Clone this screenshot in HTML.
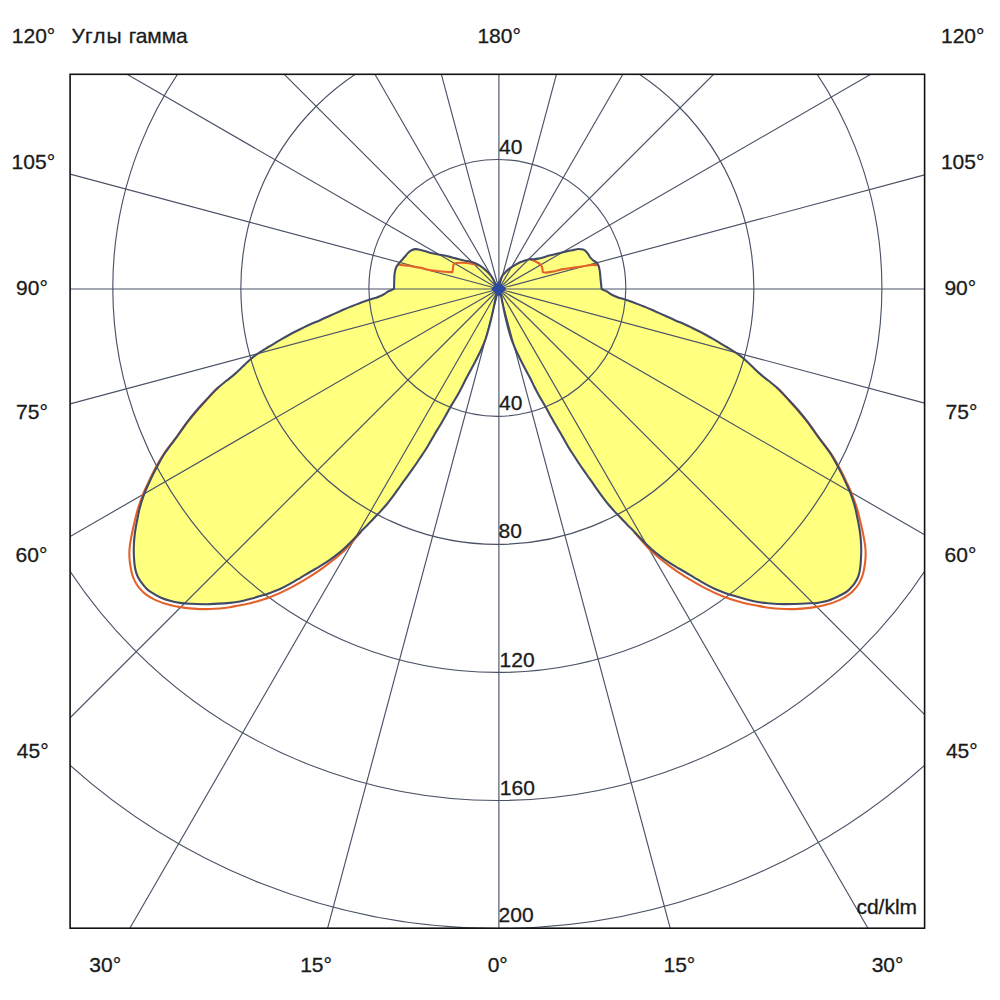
<!DOCTYPE html><html><head><meta charset="utf-8"><style>html,body{margin:0;padding:0;background:#fff;width:1000px;height:1000px;overflow:hidden}svg{display:block}text{font-family:"Liberation Sans",sans-serif;font-size:21px;fill:#1a1a1a;stroke:#1a1a1a;stroke-width:0.3px}</style></head><body>
<svg width="1000" height="1000" viewBox="0 0 1000 1000">
<defs><clipPath id="fr"><rect x="70.1" y="74.3" width="854.5" height="853.9"/></clipPath></defs>
<path d="M498.60,288.80 C498.13,288.27 496.57,286.93 495.80,285.60 C495.03,284.27 494.80,282.40 494.00,280.80 C493.20,279.20 492.13,277.48 491.02,275.99 C489.92,274.49 488.68,273.13 487.38,271.83 C486.09,270.52 484.62,269.29 483.23,268.17 C481.83,267.06 480.43,266.01 479.02,265.15 C477.60,264.28 476.23,263.57 474.73,262.98 C473.23,262.38 471.81,261.99 470.02,261.57 C468.23,261.15 465.99,260.85 463.99,260.44 C461.99,260.03 460.03,259.59 458.03,259.09 C456.03,258.59 453.99,257.99 451.99,257.45 C449.98,256.90 448.00,256.27 446.00,255.81 C444.00,255.35 441.65,255.00 439.99,254.70 C438.33,254.41 437.70,254.36 436.03,254.02 C434.36,253.69 432.08,253.25 429.98,252.69 C427.88,252.14 425.33,251.23 423.42,250.70 C421.52,250.16 419.95,249.75 418.54,249.49 C417.13,249.23 416.24,248.98 414.97,249.16 C413.70,249.34 412.11,249.91 410.92,250.58 C409.72,251.24 408.81,252.10 407.80,253.14 C406.78,254.17 405.82,255.61 404.80,256.80 C403.79,258.00 402.79,259.09 401.69,260.30 C400.58,261.51 399.13,262.82 398.19,264.06 C397.25,265.30 396.67,266.15 396.07,267.74 C395.47,269.33 394.91,271.22 394.60,273.60 C394.29,275.98 394.30,279.43 394.20,282.00 C394.10,284.57 394.03,287.83 394.00,289.00 C393.67,289.13 393.00,289.38 392.00,289.80 C391.00,290.22 389.16,290.87 388.00,291.50 C386.84,292.13 386.36,292.76 385.02,293.56 C383.67,294.37 381.59,295.58 379.93,296.32 C378.26,297.07 376.66,297.48 375.01,298.01 C373.36,298.54 372.50,298.68 370.00,299.52 C367.51,300.36 363.36,301.83 360.02,303.05 C356.68,304.28 353.27,305.53 349.95,306.89 C346.63,308.25 343.44,309.74 340.10,311.21 C336.75,312.69 333.22,314.25 329.89,315.74 C326.55,317.24 323.40,318.72 320.08,320.18 C316.76,321.64 312.80,323.24 309.96,324.51 C307.12,325.77 305.35,326.64 303.03,327.76 C300.70,328.88 298.34,330.00 296.00,331.21 C293.66,332.41 291.32,333.69 288.99,334.97 C286.65,336.26 284.35,337.58 282.02,338.93 C279.69,340.28 277.33,341.69 274.99,343.08 C272.65,344.47 270.30,345.85 267.97,347.26 C265.64,348.67 263.36,350.03 261.02,351.54 C258.69,353.06 256.25,354.57 253.95,356.34 C251.64,358.12 249.15,360.42 247.21,362.21 C245.26,363.99 244.40,365.04 242.26,367.07 C240.12,369.09 237.03,372.09 234.39,374.37 C231.74,376.66 229.03,378.63 226.38,380.79 C223.74,382.94 220.89,385.18 218.50,387.32 C216.11,389.45 214.45,391.11 212.02,393.61 C209.59,396.12 206.61,399.41 203.93,402.34 C201.26,405.27 198.62,408.10 195.98,411.20 C193.35,414.29 190.51,417.77 188.13,420.89 C185.75,424.01 183.72,427.10 181.71,429.94 C179.71,432.77 178.06,435.23 176.08,437.91 C174.11,440.60 171.84,443.37 169.86,446.06 C167.89,448.74 166.10,451.09 164.23,454.02 C162.36,456.95 160.40,460.43 158.64,463.62 C156.89,466.80 155.28,469.94 153.69,473.15 C152.10,476.35 150.57,479.65 149.10,482.85 C147.63,486.05 146.14,489.15 144.86,492.35 C143.58,495.55 142.36,499.13 141.43,502.07 C140.49,505.00 139.90,507.30 139.26,509.96 C138.62,512.61 138.14,515.33 137.60,518.00 C137.06,520.68 136.49,523.34 136.02,526.00 C135.55,528.67 135.11,531.33 134.78,534.00 C134.45,536.67 134.20,539.34 134.03,542.00 C133.87,544.67 133.77,547.33 133.77,550.00 C133.76,552.67 133.84,555.33 134.01,558.00 C134.18,560.67 134.41,563.62 134.76,566.01 C135.12,568.41 135.50,570.39 136.11,572.38 C136.73,574.37 137.42,576.07 138.45,577.95 C139.48,579.82 141.05,581.96 142.30,583.65 C143.56,585.35 144.63,586.76 145.96,588.10 C147.28,589.43 147.95,590.14 150.27,591.66 C152.60,593.18 156.61,595.69 159.91,597.22 C163.20,598.75 166.70,599.90 170.05,600.85 C173.40,601.79 176.69,602.42 180.01,602.89 C183.34,603.37 185.01,603.48 190.01,603.69 C195.01,603.90 203.35,604.30 210.01,604.17 C216.67,604.04 224.96,603.36 229.96,602.92 C234.96,602.48 236.65,602.17 239.99,601.51 C243.33,600.86 246.65,599.88 249.99,598.98 C253.33,598.09 256.71,597.13 260.04,596.12 C263.37,595.11 266.65,594.11 269.98,592.92 C273.31,591.73 276.67,590.49 280.00,589.00 C283.33,587.50 286.62,585.76 289.96,583.94 C293.30,582.11 296.70,580.05 300.04,578.06 C303.38,576.08 306.66,573.99 310.00,572.00 C313.34,570.01 316.77,568.15 320.08,566.12 C323.40,564.09 326.55,562.15 329.88,559.82 C333.22,557.48 336.74,554.92 340.08,552.10 C343.42,549.29 347.03,545.77 349.93,542.94 C352.84,540.11 355.69,537.05 357.53,535.13 C359.37,533.20 359.40,533.00 360.99,531.39 C362.57,529.77 365.05,527.45 367.04,525.44 C369.03,523.43 371.12,521.23 372.93,519.34 C374.74,517.44 376.49,515.58 377.90,514.09 C379.30,512.59 379.99,511.88 381.37,510.36 C382.74,508.84 384.65,506.76 386.16,504.97 C387.68,503.18 389.06,501.44 390.45,499.64 C391.85,497.84 393.16,496.07 394.55,494.16 C395.95,492.26 397.42,490.21 398.82,488.22 C400.23,486.22 401.56,484.17 402.97,482.18 C404.38,480.19 405.80,478.31 407.29,476.26 C408.78,474.22 410.44,471.97 411.90,469.93 C413.36,467.89 414.69,466.02 416.04,464.03 C417.39,462.04 418.66,460.00 420.00,458.00 C421.34,456.00 422.74,454.04 424.05,452.03 C425.37,450.02 426.58,448.10 427.89,445.93 C429.20,443.77 430.75,441.05 431.90,439.06 C433.05,437.07 433.70,435.83 434.78,433.99 C435.86,432.15 437.19,429.99 438.40,428.00 C439.61,426.01 440.86,424.03 442.04,422.02 C443.22,420.01 444.37,417.93 445.49,415.94 C446.60,413.95 447.74,411.88 448.74,410.08 C449.75,408.28 450.34,407.16 451.53,405.16 C452.71,403.15 454.58,400.24 455.87,398.04 C457.17,395.84 458.22,393.95 459.31,391.95 C460.40,389.95 461.42,388.01 462.43,386.02 C463.45,384.03 464.37,381.99 465.39,380.00 C466.42,378.00 467.33,376.39 468.59,374.05 C469.84,371.71 471.42,368.79 472.92,365.96 C474.42,363.12 476.10,360.05 477.60,357.05 C479.11,354.05 480.61,350.98 481.94,347.97 C483.26,344.96 484.50,341.98 485.56,338.99 C486.62,336.00 487.47,333.01 488.31,330.01 C489.16,327.01 489.91,324.02 490.65,321.01 C491.39,318.01 492.08,314.99 492.74,311.99 C493.40,308.99 493.99,306.00 494.60,303.00 C495.21,300.00 495.73,296.37 496.40,294.00 C497.07,291.63 498.23,289.67 498.60,288.80Z" fill="#ffff80"/>
<path d="M498.80,288.80 C498.97,287.67 499.23,284.13 499.80,282.00 C500.37,279.87 501.20,277.70 502.20,276.00 C503.20,274.30 504.50,273.10 505.80,271.80 C507.10,270.50 508.50,269.30 510.00,268.20 C511.50,267.10 513.10,266.20 514.80,265.20 C516.50,264.20 518.50,263.00 520.20,262.20 C521.90,261.40 523.40,260.90 525.00,260.40 C526.60,259.90 528.30,259.40 529.80,259.20 C531.30,259.00 532.60,259.30 534.00,259.20 C535.40,259.10 536.70,258.90 538.20,258.60 C539.70,258.30 541.20,257.90 543.00,257.40 C544.80,256.90 546.83,256.15 549.00,255.60 C551.17,255.05 553.83,254.60 556.00,254.10 C558.17,253.60 560.00,253.10 562.00,252.60 C564.00,252.10 566.00,251.55 568.00,251.10 C570.00,250.65 572.30,250.25 574.00,249.90 C575.70,249.55 576.70,249.05 578.20,249.00 C579.70,248.95 581.70,249.20 583.00,249.60 C584.30,250.00 585.10,250.60 586.00,251.40 C586.90,252.20 587.70,253.40 588.40,254.40 C589.10,255.40 589.40,256.40 590.20,257.40 C591.00,258.40 592.10,259.50 593.20,260.40 C594.30,261.30 595.90,261.90 596.80,262.80 C597.70,263.70 598.10,264.40 598.60,265.80 C599.10,267.20 599.50,269.30 599.80,271.20 C600.10,273.10 600.20,275.20 600.40,277.20 C600.60,279.20 600.80,281.23 601.00,283.20 C601.20,285.17 601.50,288.03 601.60,289.00 C601.83,289.13 602.10,289.38 603.00,289.80 C603.90,290.22 605.84,290.87 607.00,291.50 C608.16,292.13 608.64,292.76 609.98,293.56 C611.33,294.37 613.41,295.58 615.07,296.32 C616.74,297.07 618.34,297.48 619.99,298.01 C621.64,298.54 622.50,298.68 625.00,299.52 C627.49,300.36 631.64,301.83 634.98,303.05 C638.32,304.28 641.73,305.53 645.05,306.89 C648.37,308.25 651.56,309.74 654.90,311.21 C658.25,312.69 661.78,314.25 665.11,315.74 C668.45,317.24 671.60,318.72 674.92,320.18 C678.24,321.64 682.20,323.24 685.04,324.51 C687.88,325.77 689.65,326.64 691.97,327.76 C694.30,328.88 696.66,330.00 699.00,331.21 C701.34,332.41 703.68,333.69 706.01,334.97 C708.35,336.26 710.65,337.58 712.98,338.93 C715.31,340.28 717.67,341.69 720.01,343.08 C722.35,344.47 724.70,345.85 727.03,347.26 C729.36,348.67 731.64,350.03 733.98,351.54 C736.31,353.06 738.75,354.57 741.05,356.34 C743.36,358.12 745.85,360.42 747.79,362.21 C749.74,363.99 750.60,365.04 752.74,367.07 C754.88,369.09 757.97,372.09 760.61,374.37 C763.26,376.66 765.97,378.63 768.62,380.79 C771.26,382.94 774.11,385.18 776.50,387.32 C778.89,389.45 780.55,391.11 782.98,393.61 C785.41,396.12 788.39,399.41 791.07,402.34 C793.74,405.27 796.38,408.10 799.02,411.20 C801.65,414.29 804.49,417.77 806.87,420.89 C809.25,424.01 811.28,427.10 813.29,429.94 C815.29,432.77 816.94,435.23 818.92,437.91 C820.89,440.60 823.16,443.37 825.14,446.06 C827.11,448.74 828.90,451.09 830.77,454.02 C832.64,456.95 834.60,460.43 836.36,463.62 C838.11,466.80 839.72,469.94 841.31,473.15 C842.90,476.35 844.43,479.65 845.90,482.85 C847.37,486.05 848.86,489.15 850.14,492.35 C851.42,495.55 852.64,499.13 853.57,502.07 C854.51,505.00 855.10,507.30 855.74,509.96 C856.38,512.61 856.86,515.33 857.40,518.00 C857.94,520.68 858.51,523.34 858.98,526.00 C859.45,528.67 859.89,531.33 860.22,534.00 C860.55,536.67 860.80,539.34 860.97,542.00 C861.13,544.67 861.23,547.33 861.23,550.00 C861.24,552.67 861.13,555.33 860.99,558.00 C860.85,560.67 860.66,563.60 860.40,566.00 C860.14,568.40 859.87,570.40 859.40,572.40 C858.93,574.40 858.43,576.13 857.60,578.00 C856.77,579.87 855.57,581.93 854.40,583.60 C853.23,585.27 851.95,586.60 850.60,588.00 C849.25,589.40 848.57,590.50 846.30,592.00 C844.03,593.50 840.22,595.50 837.00,597.00 C833.78,598.50 830.50,600.00 827.00,601.00 C823.50,602.00 817.83,602.67 816.00,603.00 C814.17,603.33 821.17,602.81 816.00,603.00 C810.83,603.19 793.48,604.18 784.99,604.17 C776.49,604.15 770.04,603.36 765.04,602.92 C760.04,602.48 758.35,602.17 755.01,601.51 C751.67,600.86 748.35,599.88 745.01,598.98 C741.67,598.09 738.29,597.13 734.96,596.12 C731.63,595.11 728.35,594.11 725.02,592.92 C721.69,591.73 718.33,590.49 715.00,589.00 C711.67,587.50 708.38,585.76 705.04,583.94 C701.70,582.11 698.30,580.05 694.96,578.06 C691.62,576.08 688.34,573.99 685.00,572.00 C681.66,570.01 678.23,568.15 674.92,566.12 C671.60,564.09 668.45,562.15 665.12,559.82 C661.78,557.48 658.26,554.92 654.92,552.10 C651.58,549.29 647.97,545.77 645.07,542.94 C642.16,540.11 639.31,537.05 637.47,535.13 C635.63,533.20 635.60,533.00 634.01,531.39 C632.43,529.77 629.95,527.45 627.96,525.44 C625.97,523.43 623.88,521.23 622.07,519.34 C620.26,517.44 618.51,515.58 617.10,514.09 C615.70,512.59 615.01,511.88 613.63,510.36 C612.26,508.84 610.35,506.76 608.84,504.97 C607.32,503.18 605.94,501.44 604.55,499.64 C603.15,497.84 601.84,496.07 600.45,494.16 C599.06,492.26 597.57,490.21 596.18,488.22 C594.79,486.22 593.50,484.17 592.12,482.18 C590.74,480.19 589.36,478.31 587.90,476.26 C586.45,474.22 584.82,471.97 583.39,469.93 C581.97,467.89 580.67,466.02 579.35,464.03 C578.03,462.04 576.78,460.00 575.47,458.00 C574.16,456.00 572.79,454.04 571.51,452.03 C570.22,450.02 569.04,448.10 567.76,445.93 C566.48,443.77 564.96,441.05 563.83,439.06 C562.71,437.07 562.08,435.83 561.02,433.99 C559.96,432.15 558.66,429.99 557.48,428.00 C556.29,426.01 555.07,424.03 553.92,422.02 C552.76,420.01 551.64,417.93 550.54,415.94 C549.45,413.95 548.34,411.88 547.36,410.08 C546.37,408.28 545.80,407.16 544.64,405.16 C543.48,403.15 541.66,400.24 540.39,398.04 C539.12,395.84 538.10,393.95 537.03,391.95 C535.96,389.95 534.96,388.01 533.97,386.02 C532.98,384.03 532.08,381.99 531.08,380.00 C530.07,378.00 529.18,376.39 527.95,374.05 C526.72,371.71 525.19,368.79 523.72,365.96 C522.25,363.12 520.60,360.05 519.13,357.05 C517.66,354.05 516.19,350.98 514.90,347.97 C513.60,344.96 512.39,341.98 511.35,338.99 C510.32,336.00 509.49,333.01 508.66,330.01 C507.83,327.01 507.10,324.02 506.38,321.01 C505.65,318.01 504.97,314.99 504.33,311.99 C503.68,308.99 503.11,306.00 502.51,303.00 C501.92,300.00 501.40,296.37 500.75,294.00 C500.10,291.63 498.96,289.67 498.60,288.80Z" fill="#ffff80"/>
<g clip-path="url(#fr)" stroke="#4a5266" stroke-width="1.15" fill="none">
<circle cx="497.35" cy="287.9" r="128.45"/>
<circle cx="497.35" cy="287.9" r="256.50"/>
<circle cx="497.35" cy="287.9" r="384.55"/>
<circle cx="497.35" cy="287.9" r="512.60"/>
<circle cx="497.35" cy="287.9" r="640.65"/>
<line x1="498.9" y1="289.0" x2="924.60" y2="289.00"/>
<line x1="498.9" y1="289.0" x2="924.60" y2="403.07"/>
<line x1="498.9" y1="289.0" x2="924.60" y2="534.78"/>
<line x1="498.9" y1="289.0" x2="924.60" y2="714.70"/>
<line x1="498.9" y1="289.0" x2="867.94" y2="928.20"/>
<line x1="498.9" y1="289.0" x2="670.17" y2="928.20"/>
<line x1="498.9" y1="289.0" x2="498.90" y2="928.20"/>
<line x1="498.9" y1="289.0" x2="327.63" y2="928.20"/>
<line x1="498.9" y1="289.0" x2="129.86" y2="928.20"/>
<line x1="498.9" y1="289.0" x2="70.10" y2="717.80"/>
<line x1="498.9" y1="289.0" x2="70.10" y2="536.57"/>
<line x1="498.9" y1="289.0" x2="70.10" y2="403.90"/>
<line x1="498.9" y1="289.0" x2="70.10" y2="289.00"/>
<line x1="498.9" y1="289.0" x2="70.10" y2="174.10"/>
<line x1="498.9" y1="289.0" x2="127.03" y2="74.30"/>
<line x1="498.9" y1="289.0" x2="284.20" y2="74.30"/>
<line x1="498.9" y1="289.0" x2="374.94" y2="74.30"/>
<line x1="498.9" y1="289.0" x2="441.37" y2="74.30"/>
<line x1="498.9" y1="289.0" x2="498.90" y2="74.30"/>
<line x1="498.9" y1="289.0" x2="556.43" y2="74.30"/>
<line x1="498.9" y1="289.0" x2="622.86" y2="74.30"/>
<line x1="498.9" y1="289.0" x2="713.60" y2="74.30"/>
<line x1="498.9" y1="289.0" x2="870.77" y2="74.30"/>
<line x1="498.9" y1="289.0" x2="924.60" y2="174.93"/>
</g>
<path d="M398.20,264.60 C399.00,264.70 401.20,265.00 403.00,265.20 C404.80,265.40 407.00,265.50 409.00,265.80 C411.00,266.10 413.00,266.65 415.00,267.00 C417.00,267.35 419.00,267.50 421.00,267.90 C423.00,268.30 425.00,268.95 427.00,269.40 C429.00,269.85 431.00,270.28 433.00,270.60 C435.00,270.92 437.00,271.10 439.00,271.30 C441.00,271.50 442.77,271.65 445.00,271.80 C447.23,271.95 451.17,272.13 452.40,272.20 C452.60,270.87 453.40,265.53 453.60,264.20 C454.13,264.00 455.07,263.23 456.80,263.00 C458.53,262.77 461.80,262.73 464.00,262.80 C466.20,262.87 468.20,263.17 470.00,263.40 C471.80,263.63 473.30,263.83 474.80,264.20 C476.30,264.57 478.30,265.37 479.00,265.60" fill="none" stroke="#e4622a" stroke-width="2.1" stroke-linejoin="round"/>
<path d="M218.40,387.20 C217.33,388.30 214.41,391.21 212.00,393.80 C209.59,396.39 206.65,399.78 203.97,402.77 C201.29,405.76 198.64,408.58 195.93,411.74 C193.21,414.91 190.16,418.58 187.68,421.74 C185.21,424.90 183.14,427.88 181.08,430.71 C179.02,433.54 177.32,436.03 175.30,438.73 C173.29,441.42 170.98,444.18 168.97,446.86 C166.95,449.54 165.11,451.91 163.21,454.81 C161.31,457.70 159.34,461.07 157.56,464.23 C155.77,467.38 154.10,470.56 152.49,473.74 C150.88,476.93 149.37,480.18 147.90,483.35 C146.43,486.52 144.99,489.57 143.68,492.75 C142.38,495.94 141.09,499.52 140.05,502.45 C139.02,505.39 138.26,507.66 137.47,510.36 C136.68,513.06 136.12,515.36 135.33,518.63 C134.53,521.90 133.52,526.08 132.70,529.98 C131.88,533.87 130.95,538.67 130.41,542.01 C129.87,545.35 129.61,547.34 129.45,550.01 C129.29,552.67 129.31,555.33 129.47,558.00 C129.62,560.66 129.97,563.34 130.40,566.01 C130.83,568.68 131.36,571.60 132.04,574.00 C132.72,576.39 133.41,578.23 134.47,580.38 C135.53,582.53 136.59,584.66 138.38,586.90 C140.18,589.15 142.44,591.70 145.22,593.85 C148.00,596.01 150.95,597.97 155.08,599.84 C159.20,601.72 164.97,603.77 169.96,605.11 C174.95,606.46 180.01,607.23 185.01,607.90 C190.02,608.56 194.15,609.02 199.98,609.11 C205.81,609.20 214.98,608.76 219.98,608.44 C224.98,608.12 226.65,607.72 229.99,607.19 C233.33,606.66 236.65,605.89 240.01,605.23 C243.36,604.58 245.14,604.60 250.12,603.27 C255.11,601.95 263.27,599.80 269.91,597.26 C276.56,594.73 283.27,591.57 289.98,588.09 C296.70,584.60 304.44,579.94 310.22,576.35 C316.01,572.77 319.68,570.23 324.68,566.56 C329.69,562.89 336.07,557.96 340.25,554.32 C344.42,550.69 346.89,547.81 349.75,544.76 C352.60,541.71 355.52,538.16 357.40,536.00 C359.28,533.84 360.40,532.50 361.00,531.80" fill="none" stroke="#e4622a" stroke-width="2.1"/>
<path d="M498.60,288.80 C498.13,288.27 496.57,286.93 495.80,285.60 C495.03,284.27 494.80,282.40 494.00,280.80 C493.20,279.20 492.13,277.48 491.02,275.99 C489.92,274.49 488.68,273.13 487.38,271.83 C486.09,270.52 484.62,269.29 483.23,268.17 C481.83,267.06 480.43,266.01 479.02,265.15 C477.60,264.28 476.23,263.57 474.73,262.98 C473.23,262.38 471.81,261.99 470.02,261.57 C468.23,261.15 465.99,260.85 463.99,260.44 C461.99,260.03 460.03,259.59 458.03,259.09 C456.03,258.59 453.99,257.99 451.99,257.45 C449.98,256.90 448.00,256.27 446.00,255.81 C444.00,255.35 441.65,255.00 439.99,254.70 C438.33,254.41 437.70,254.36 436.03,254.02 C434.36,253.69 432.08,253.25 429.98,252.69 C427.88,252.14 425.33,251.23 423.42,250.70 C421.52,250.16 419.95,249.75 418.54,249.49 C417.13,249.23 416.24,248.98 414.97,249.16 C413.70,249.34 412.11,249.91 410.92,250.58 C409.72,251.24 408.81,252.10 407.80,253.14 C406.78,254.17 405.82,255.61 404.80,256.80 C403.79,258.00 402.79,259.09 401.69,260.30 C400.58,261.51 399.13,262.82 398.19,264.06 C397.25,265.30 396.67,266.15 396.07,267.74 C395.47,269.33 394.91,271.22 394.60,273.60 C394.29,275.98 394.30,279.43 394.20,282.00 C394.10,284.57 394.03,287.83 394.00,289.00 C393.67,289.13 393.00,289.38 392.00,289.80 C391.00,290.22 389.16,290.87 388.00,291.50 C386.84,292.13 386.36,292.76 385.02,293.56 C383.67,294.37 381.59,295.58 379.93,296.32 C378.26,297.07 376.66,297.48 375.01,298.01 C373.36,298.54 372.50,298.68 370.00,299.52 C367.51,300.36 363.36,301.83 360.02,303.05 C356.68,304.28 353.27,305.53 349.95,306.89 C346.63,308.25 343.44,309.74 340.10,311.21 C336.75,312.69 333.22,314.25 329.89,315.74 C326.55,317.24 323.40,318.72 320.08,320.18 C316.76,321.64 312.80,323.24 309.96,324.51 C307.12,325.77 305.35,326.64 303.03,327.76 C300.70,328.88 298.34,330.00 296.00,331.21 C293.66,332.41 291.32,333.69 288.99,334.97 C286.65,336.26 284.35,337.58 282.02,338.93 C279.69,340.28 277.33,341.69 274.99,343.08 C272.65,344.47 270.30,345.85 267.97,347.26 C265.64,348.67 263.36,350.03 261.02,351.54 C258.69,353.06 256.25,354.57 253.95,356.34 C251.64,358.12 249.15,360.42 247.21,362.21 C245.26,363.99 244.40,365.04 242.26,367.07 C240.12,369.09 237.03,372.09 234.39,374.37 C231.74,376.66 229.03,378.63 226.38,380.79 C223.74,382.94 220.89,385.18 218.50,387.32 C216.11,389.45 214.45,391.11 212.02,393.61 C209.59,396.12 206.61,399.41 203.93,402.34 C201.26,405.27 198.62,408.10 195.98,411.20 C193.35,414.29 190.51,417.77 188.13,420.89 C185.75,424.01 183.72,427.10 181.71,429.94 C179.71,432.77 178.06,435.23 176.08,437.91 C174.11,440.60 171.84,443.37 169.86,446.06 C167.89,448.74 166.10,451.09 164.23,454.02 C162.36,456.95 160.40,460.43 158.64,463.62 C156.89,466.80 155.28,469.94 153.69,473.15 C152.10,476.35 150.57,479.65 149.10,482.85 C147.63,486.05 146.14,489.15 144.86,492.35 C143.58,495.55 142.36,499.13 141.43,502.07 C140.49,505.00 139.90,507.30 139.26,509.96 C138.62,512.61 138.14,515.33 137.60,518.00 C137.06,520.68 136.49,523.34 136.02,526.00 C135.55,528.67 135.11,531.33 134.78,534.00 C134.45,536.67 134.20,539.34 134.03,542.00 C133.87,544.67 133.77,547.33 133.77,550.00 C133.76,552.67 133.84,555.33 134.01,558.00 C134.18,560.67 134.41,563.62 134.76,566.01 C135.12,568.41 135.50,570.39 136.11,572.38 C136.73,574.37 137.42,576.07 138.45,577.95 C139.48,579.82 141.05,581.96 142.30,583.65 C143.56,585.35 144.63,586.76 145.96,588.10 C147.28,589.43 147.95,590.14 150.27,591.66 C152.60,593.18 156.61,595.69 159.91,597.22 C163.20,598.75 166.70,599.90 170.05,600.85 C173.40,601.79 176.69,602.42 180.01,602.89 C183.34,603.37 185.01,603.48 190.01,603.69 C195.01,603.90 203.35,604.30 210.01,604.17 C216.67,604.04 224.96,603.36 229.96,602.92 C234.96,602.48 236.65,602.17 239.99,601.51 C243.33,600.86 246.65,599.88 249.99,598.98 C253.33,598.09 256.71,597.13 260.04,596.12 C263.37,595.11 266.65,594.11 269.98,592.92 C273.31,591.73 276.67,590.49 280.00,589.00 C283.33,587.50 286.62,585.76 289.96,583.94 C293.30,582.11 296.70,580.05 300.04,578.06 C303.38,576.08 306.66,573.99 310.00,572.00 C313.34,570.01 316.77,568.15 320.08,566.12 C323.40,564.09 326.55,562.15 329.88,559.82 C333.22,557.48 336.74,554.92 340.08,552.10 C343.42,549.29 347.03,545.77 349.93,542.94 C352.84,540.11 355.69,537.05 357.53,535.13 C359.37,533.20 359.40,533.00 360.99,531.39 C362.57,529.77 365.05,527.45 367.04,525.44 C369.03,523.43 371.12,521.23 372.93,519.34 C374.74,517.44 376.49,515.58 377.90,514.09 C379.30,512.59 379.99,511.88 381.37,510.36 C382.74,508.84 384.65,506.76 386.16,504.97 C387.68,503.18 389.06,501.44 390.45,499.64 C391.85,497.84 393.16,496.07 394.55,494.16 C395.95,492.26 397.42,490.21 398.82,488.22 C400.23,486.22 401.56,484.17 402.97,482.18 C404.38,480.19 405.80,478.31 407.29,476.26 C408.78,474.22 410.44,471.97 411.90,469.93 C413.36,467.89 414.69,466.02 416.04,464.03 C417.39,462.04 418.66,460.00 420.00,458.00 C421.34,456.00 422.74,454.04 424.05,452.03 C425.37,450.02 426.58,448.10 427.89,445.93 C429.20,443.77 430.75,441.05 431.90,439.06 C433.05,437.07 433.70,435.83 434.78,433.99 C435.86,432.15 437.19,429.99 438.40,428.00 C439.61,426.01 440.86,424.03 442.04,422.02 C443.22,420.01 444.37,417.93 445.49,415.94 C446.60,413.95 447.74,411.88 448.74,410.08 C449.75,408.28 450.34,407.16 451.53,405.16 C452.71,403.15 454.58,400.24 455.87,398.04 C457.17,395.84 458.22,393.95 459.31,391.95 C460.40,389.95 461.42,388.01 462.43,386.02 C463.45,384.03 464.37,381.99 465.39,380.00 C466.42,378.00 467.33,376.39 468.59,374.05 C469.84,371.71 471.42,368.79 472.92,365.96 C474.42,363.12 476.10,360.05 477.60,357.05 C479.11,354.05 480.61,350.98 481.94,347.97 C483.26,344.96 484.50,341.98 485.56,338.99 C486.62,336.00 487.47,333.01 488.31,330.01 C489.16,327.01 489.91,324.02 490.65,321.01 C491.39,318.01 492.08,314.99 492.74,311.99 C493.40,308.99 493.99,306.00 494.60,303.00 C495.21,300.00 495.73,296.37 496.40,294.00 C497.07,291.63 498.23,289.67 498.60,288.80" fill="none" stroke="#434a66" stroke-width="2.1" stroke-linejoin="round"/>
<path d="M530.50,259.40 C531.58,259.87 535.32,261.33 537.00,262.20 C538.68,263.07 539.73,263.70 540.60,264.60 C541.47,265.50 541.83,266.33 542.20,267.60 C542.57,268.87 542.70,271.43 542.80,272.20 C543.33,272.27 544.97,272.62 546.00,272.60 C547.03,272.58 547.50,272.33 549.00,272.10 C550.50,271.87 552.83,271.65 555.00,271.20 C557.17,270.75 559.83,269.85 562.00,269.40 C564.17,268.95 566.00,268.80 568.00,268.50 C570.00,268.20 572.00,267.90 574.00,267.60 C576.00,267.30 578.00,267.00 580.00,266.70 C582.00,266.40 584.00,266.10 586.00,265.80 C588.00,265.50 590.08,265.00 592.00,264.90 C593.92,264.80 596.58,265.15 597.50,265.20" fill="none" stroke="#e4622a" stroke-width="2.1" stroke-linejoin="round"/>
<path d="M776.60,387.20 C777.67,388.30 780.59,391.21 783.00,393.80 C785.41,396.39 788.35,399.78 791.03,402.77 C793.71,405.76 796.36,408.58 799.07,411.74 C801.79,414.91 804.84,418.58 807.32,421.74 C809.79,424.90 811.86,427.88 813.92,430.71 C815.98,433.54 817.68,436.03 819.70,438.73 C821.71,441.42 824.02,444.18 826.03,446.86 C828.05,449.54 829.89,451.91 831.79,454.81 C833.69,457.70 835.66,461.07 837.44,464.23 C839.23,467.38 840.90,470.56 842.51,473.74 C844.12,476.93 845.63,480.18 847.10,483.35 C848.57,486.52 850.01,489.57 851.32,492.75 C852.62,495.94 853.91,499.52 854.95,502.45 C855.98,505.39 856.74,507.66 857.53,510.36 C858.32,513.06 858.88,515.36 859.67,518.63 C860.47,521.90 861.48,526.08 862.30,529.98 C863.12,533.87 864.05,538.67 864.59,542.01 C865.13,545.35 865.39,547.34 865.55,550.01 C865.71,552.67 865.69,555.33 865.53,558.00 C865.38,560.66 865.03,563.34 864.60,566.01 C864.17,568.68 863.64,571.60 862.96,574.00 C862.28,576.39 861.59,578.23 860.53,580.38 C859.47,582.53 858.41,584.66 856.62,586.90 C854.82,589.15 852.56,591.70 849.78,593.85 C847.00,596.01 844.05,597.97 839.92,599.84 C835.80,601.72 830.03,603.77 825.04,605.11 C820.05,606.46 814.99,607.23 809.99,607.90 C804.98,608.56 800.85,609.02 795.02,609.11 C789.19,609.20 780.02,608.76 775.02,608.44 C770.02,608.12 768.35,607.72 765.01,607.19 C761.67,606.66 758.35,605.89 754.99,605.23 C751.64,604.58 749.86,604.60 744.88,603.27 C739.89,601.95 731.73,599.80 725.09,597.26 C718.44,594.73 711.73,591.57 705.02,588.09 C698.30,584.60 690.56,579.94 684.78,576.35 C678.99,572.77 675.32,570.23 670.32,566.56 C665.31,562.89 658.93,557.96 654.75,554.32 C650.58,550.69 648.11,547.81 645.25,544.76 C642.40,541.71 639.48,538.16 637.60,536.00 C635.72,533.84 634.60,532.50 634.00,531.80" fill="none" stroke="#e4622a" stroke-width="2.1"/>
<path d="M498.80,288.80 C498.97,287.67 499.23,284.13 499.80,282.00 C500.37,279.87 501.20,277.70 502.20,276.00 C503.20,274.30 504.50,273.10 505.80,271.80 C507.10,270.50 508.50,269.30 510.00,268.20 C511.50,267.10 513.10,266.20 514.80,265.20 C516.50,264.20 518.50,263.00 520.20,262.20 C521.90,261.40 523.40,260.90 525.00,260.40 C526.60,259.90 528.30,259.40 529.80,259.20 C531.30,259.00 532.60,259.30 534.00,259.20 C535.40,259.10 536.70,258.90 538.20,258.60 C539.70,258.30 541.20,257.90 543.00,257.40 C544.80,256.90 546.83,256.15 549.00,255.60 C551.17,255.05 553.83,254.60 556.00,254.10 C558.17,253.60 560.00,253.10 562.00,252.60 C564.00,252.10 566.00,251.55 568.00,251.10 C570.00,250.65 572.30,250.25 574.00,249.90 C575.70,249.55 576.70,249.05 578.20,249.00 C579.70,248.95 581.70,249.20 583.00,249.60 C584.30,250.00 585.10,250.60 586.00,251.40 C586.90,252.20 587.70,253.40 588.40,254.40 C589.10,255.40 589.40,256.40 590.20,257.40 C591.00,258.40 592.10,259.50 593.20,260.40 C594.30,261.30 595.90,261.90 596.80,262.80 C597.70,263.70 598.10,264.40 598.60,265.80 C599.10,267.20 599.50,269.30 599.80,271.20 C600.10,273.10 600.20,275.20 600.40,277.20 C600.60,279.20 600.80,281.23 601.00,283.20 C601.20,285.17 601.50,288.03 601.60,289.00 C601.83,289.13 602.10,289.38 603.00,289.80 C603.90,290.22 605.84,290.87 607.00,291.50 C608.16,292.13 608.64,292.76 609.98,293.56 C611.33,294.37 613.41,295.58 615.07,296.32 C616.74,297.07 618.34,297.48 619.99,298.01 C621.64,298.54 622.50,298.68 625.00,299.52 C627.49,300.36 631.64,301.83 634.98,303.05 C638.32,304.28 641.73,305.53 645.05,306.89 C648.37,308.25 651.56,309.74 654.90,311.21 C658.25,312.69 661.78,314.25 665.11,315.74 C668.45,317.24 671.60,318.72 674.92,320.18 C678.24,321.64 682.20,323.24 685.04,324.51 C687.88,325.77 689.65,326.64 691.97,327.76 C694.30,328.88 696.66,330.00 699.00,331.21 C701.34,332.41 703.68,333.69 706.01,334.97 C708.35,336.26 710.65,337.58 712.98,338.93 C715.31,340.28 717.67,341.69 720.01,343.08 C722.35,344.47 724.70,345.85 727.03,347.26 C729.36,348.67 731.64,350.03 733.98,351.54 C736.31,353.06 738.75,354.57 741.05,356.34 C743.36,358.12 745.85,360.42 747.79,362.21 C749.74,363.99 750.60,365.04 752.74,367.07 C754.88,369.09 757.97,372.09 760.61,374.37 C763.26,376.66 765.97,378.63 768.62,380.79 C771.26,382.94 774.11,385.18 776.50,387.32 C778.89,389.45 780.55,391.11 782.98,393.61 C785.41,396.12 788.39,399.41 791.07,402.34 C793.74,405.27 796.38,408.10 799.02,411.20 C801.65,414.29 804.49,417.77 806.87,420.89 C809.25,424.01 811.28,427.10 813.29,429.94 C815.29,432.77 816.94,435.23 818.92,437.91 C820.89,440.60 823.16,443.37 825.14,446.06 C827.11,448.74 828.90,451.09 830.77,454.02 C832.64,456.95 834.60,460.43 836.36,463.62 C838.11,466.80 839.72,469.94 841.31,473.15 C842.90,476.35 844.43,479.65 845.90,482.85 C847.37,486.05 848.86,489.15 850.14,492.35 C851.42,495.55 852.64,499.13 853.57,502.07 C854.51,505.00 855.10,507.30 855.74,509.96 C856.38,512.61 856.86,515.33 857.40,518.00 C857.94,520.68 858.51,523.34 858.98,526.00 C859.45,528.67 859.89,531.33 860.22,534.00 C860.55,536.67 860.80,539.34 860.97,542.00 C861.13,544.67 861.23,547.33 861.23,550.00 C861.24,552.67 861.13,555.33 860.99,558.00 C860.85,560.67 860.66,563.60 860.40,566.00 C860.14,568.40 859.87,570.40 859.40,572.40 C858.93,574.40 858.43,576.13 857.60,578.00 C856.77,579.87 855.57,581.93 854.40,583.60 C853.23,585.27 851.95,586.60 850.60,588.00 C849.25,589.40 848.57,590.50 846.30,592.00 C844.03,593.50 840.22,595.50 837.00,597.00 C833.78,598.50 830.50,600.00 827.00,601.00 C823.50,602.00 817.83,602.67 816.00,603.00 C814.17,603.33 821.17,602.81 816.00,603.00 C810.83,603.19 793.48,604.18 784.99,604.17 C776.49,604.15 770.04,603.36 765.04,602.92 C760.04,602.48 758.35,602.17 755.01,601.51 C751.67,600.86 748.35,599.88 745.01,598.98 C741.67,598.09 738.29,597.13 734.96,596.12 C731.63,595.11 728.35,594.11 725.02,592.92 C721.69,591.73 718.33,590.49 715.00,589.00 C711.67,587.50 708.38,585.76 705.04,583.94 C701.70,582.11 698.30,580.05 694.96,578.06 C691.62,576.08 688.34,573.99 685.00,572.00 C681.66,570.01 678.23,568.15 674.92,566.12 C671.60,564.09 668.45,562.15 665.12,559.82 C661.78,557.48 658.26,554.92 654.92,552.10 C651.58,549.29 647.97,545.77 645.07,542.94 C642.16,540.11 639.31,537.05 637.47,535.13 C635.63,533.20 635.60,533.00 634.01,531.39 C632.43,529.77 629.95,527.45 627.96,525.44 C625.97,523.43 623.88,521.23 622.07,519.34 C620.26,517.44 618.51,515.58 617.10,514.09 C615.70,512.59 615.01,511.88 613.63,510.36 C612.26,508.84 610.35,506.76 608.84,504.97 C607.32,503.18 605.94,501.44 604.55,499.64 C603.15,497.84 601.84,496.07 600.45,494.16 C599.06,492.26 597.57,490.21 596.18,488.22 C594.79,486.22 593.50,484.17 592.12,482.18 C590.74,480.19 589.36,478.31 587.90,476.26 C586.45,474.22 584.82,471.97 583.39,469.93 C581.97,467.89 580.67,466.02 579.35,464.03 C578.03,462.04 576.78,460.00 575.47,458.00 C574.16,456.00 572.79,454.04 571.51,452.03 C570.22,450.02 569.04,448.10 567.76,445.93 C566.48,443.77 564.96,441.05 563.83,439.06 C562.71,437.07 562.08,435.83 561.02,433.99 C559.96,432.15 558.66,429.99 557.48,428.00 C556.29,426.01 555.07,424.03 553.92,422.02 C552.76,420.01 551.64,417.93 550.54,415.94 C549.45,413.95 548.34,411.88 547.36,410.08 C546.37,408.28 545.80,407.16 544.64,405.16 C543.48,403.15 541.66,400.24 540.39,398.04 C539.12,395.84 538.10,393.95 537.03,391.95 C535.96,389.95 534.96,388.01 533.97,386.02 C532.98,384.03 532.08,381.99 531.08,380.00 C530.07,378.00 529.18,376.39 527.95,374.05 C526.72,371.71 525.19,368.79 523.72,365.96 C522.25,363.12 520.60,360.05 519.13,357.05 C517.66,354.05 516.19,350.98 514.90,347.97 C513.60,344.96 512.39,341.98 511.35,338.99 C510.32,336.00 509.49,333.01 508.66,330.01 C507.83,327.01 507.10,324.02 506.38,321.01 C505.65,318.01 504.97,314.99 504.33,311.99 C503.68,308.99 503.11,306.00 502.51,303.00 C501.92,300.00 501.40,296.37 500.75,294.00 C500.10,291.63 498.96,289.67 498.60,288.80" fill="none" stroke="#434a66" stroke-width="2.1" stroke-linejoin="round"/>
<path d="M498.7,281.3 L506.2,288.9 L498.7,296.5 L491.2,288.9 Z" fill="#2b4aa0"/>
<rect x="70.1" y="74.3" width="854.5" height="853.9" fill="none" stroke="#111" stroke-width="1.6"/>
<text x="11.8" y="43.2">120°</text>
<text x="71.6" y="43.3" letter-spacing="1">Углы</text>
<text x="128.8" y="43.3" letter-spacing="-0.15">гамма</text>
<text x="477.4" y="43.2">180°</text>
<text x="941" y="43.2">120°</text>
<text x="11.6" y="168.8">105°</text>
<text x="940.9" y="168.6">105°</text>
<text x="16.1" y="294.7">90°</text>
<text x="944.4" y="294.7">90°</text>
<text x="16.1" y="419.4">75°</text>
<text x="945.6" y="419.4">75°</text>
<text x="15.6" y="561.6">60°</text>
<text x="944.6" y="561.6">60°</text>
<text x="16.8" y="758.4">45°</text>
<text x="945.9" y="758.3">45°</text>
<text x="89.3" y="971.9">30°</text>
<text x="300.2" y="971.9">15°</text>
<text x="487.7" y="972">0°</text>
<text x="663.5" y="971.9">15°</text>
<text x="871.7" y="971.9">30°</text>
<text x="499.1" y="154.3">40</text>
<text x="499.1" y="409.6">40</text>
<text x="498.6" y="538.1">80</text>
<text x="499.6" y="666.6">120</text>
<text x="499.8" y="795.1">160</text>
<text x="498.6" y="922.2">200</text>
<text x="856.4" y="914">cd/klm</text>
</svg></body></html>
